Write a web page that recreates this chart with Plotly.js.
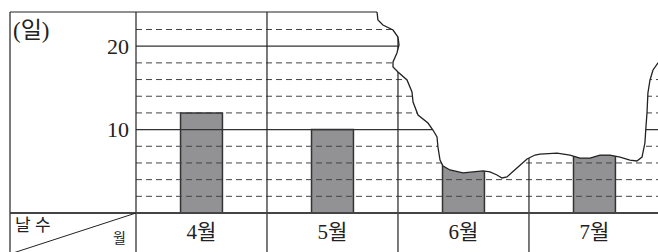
<!DOCTYPE html>
<html>
<head>
<meta charset="utf-8">
<script src="https://cdn.plot.ly/plotly-3.0.1.min.js"></script>
<style>
  html, body { margin: 0; padding: 0; background: #fff; }
  #chart { width: 658px; height: 252px; }
</style>
</head>
<body>
<div id="chart"></div>
<script>
// ---- data ----
const MONTHS = ['4월', '5월', '6월', '7월'];
const DAYS = [12, 10, 6, 7];           // 6월, 7월 are partly hidden by the torn paper
const Y_TICK_VALUES = [10, 20];
const Y_TICK_LABELS = ['10', '20'];
const SOLID_GRID = [10, 20];
const DASHED_GRID = [2, 4, 6, 8, 12, 14, 16, 18, 22];
const UNIT_LABEL = '(일)';
const ROW_HEADER = '날 수';
const COL_HEADER = '월';

// torn-paper edge, in chart units (x: category index, y: days)
const TEAR_X = [1.340, 1.347, 1.385, 1.462, 1.500, 1.508, 1.492, 1.462, 1.462, 1.500, 1.569, 1.607,
  1.615, 1.653, 1.729, 1.767, 1.798, 1.805, 1.821, 1.844, 1.897, 1.996, 2.073, 2.149, 2.202, 2.256,
  2.294, 2.332, 2.408, 2.485, 2.546, 2.584, 2.714, 2.813, 2.889, 2.966, 3.042, 3.118, 3.195, 3.271,
  3.324, 3.363, 3.385, 3.393, 3.401, 3.408, 3.424, 3.447, 3.485, 3.515];
const TEAR_Y = [24.1, 23.14, 22.54, 21.94, 21.10, 20.14, 19.18, 18.11, 17.51, 16.91, 15.95, 14.51,
  13.31, 11.75, 10.79, 9.95, 9.11, 7.91, 6.35, 5.64, 5.16, 4.80, 4.92, 5.04, 4.92, 4.56,
  4.20, 4.32, 5.40, 6.47, 6.95, 7.07, 7.19, 6.95, 6.59, 6.59, 6.95, 6.95, 6.71, 6.35,
  6.24, 6.71, 8.39, 10.31, 11.99, 14.39, 15.95, 17.15, 17.99, 18.35];

// ---- layout constants ----
const X_RANGE = [-0.5, 3.485];
const Y_RANGE = [0, 24.1];
const M = { l: 136, r: 0, t: 12, b: 39 };
const W = 658, H = 252;
const PW = W - M.l - M.r, PH = H - M.t - M.b;
const pxX = px => (px - M.l) / PW;          // pixel -> paper x
const pxY = py => (H - M.b - py) / PH;      // pixel -> paper y
const dX = x => (x - X_RANGE[0]) / (X_RANGE[1] - X_RANGE[0]);
const dY = y => (y - Y_RANGE[0]) / (Y_RANGE[1] - Y_RANGE[0]);

const SERIF = 'Liberation Serif, "Noto Sans CJK KR", serif';
const INK = '#222';
const FRAME_LEFT = pxX(10);
const RIGHT_EDGE = 1.02;
const BOTTOM_EDGE = pxY(256);

const shapes = [];
const addLine = (x0, y0, x1, y1, xref, yref, color, width, dash) => shapes.push({
  type: 'line', layer: 'above', xref, yref, x0, y0, x1, y1,
  line: { color, width, dash: dash || 'solid' }
});

DASHED_GRID.forEach(v => addLine(0, v, RIGHT_EDGE, v, 'paper', 'y', '#444', 1, '6px,4px'));
SOLID_GRID.forEach(v => addLine(0, v, RIGHT_EDGE, v, 'paper', 'y', '#333', 1.2));
// column separators
MONTHS.forEach((m, i) => { if (i > 0) addLine(i - 0.5, 1, i - 0.5, BOTTOM_EDGE, 'x', 'paper', '#222', 1.2); });
// frame
addLine(0, 1, 0, BOTTOM_EDGE, 'paper', 'paper', '#222', 1.2);
addLine(FRAME_LEFT, 1, FRAME_LEFT, BOTTOM_EDGE, 'paper', 'paper', '#222', 1.2);
addLine(FRAME_LEFT, 1, RIGHT_EDGE, 1, 'paper', 'paper', '#222', 1.2);
addLine(FRAME_LEFT, 0, RIGHT_EDGE, 0, 'paper', 'paper', '#444', 2);
addLine(FRAME_LEFT, pxY(254), 0, 0, 'paper', 'paper', '#222', 1);

// torn paper
const tearPts = TEAR_X.map((x, i) => [dX(x), dY(TEAR_Y[i])]);
const edgePath = tearPts.map((p, i) => (i ? 'L' : 'M') + p[0].toFixed(5) + ',' + p[1].toFixed(5)).join(' ');
const tearTop = dY(26.5);
const fillPath = 'M' + tearPts[0][0].toFixed(5) + ',' + tearTop.toFixed(5) + ' ' +
  edgePath.replace(/^M/, 'L') + ' L1.05,' + tearPts[tearPts.length - 1][1].toFixed(5) +
  ' L1.05,' + tearTop.toFixed(5) + ' Z';
shapes.push({ type: 'path', layer: 'above', xref: 'paper', yref: 'paper', path: fillPath,
  fillcolor: '#ffffff', line: { width: 0 } });
shapes.push({ type: 'path', layer: 'above', xref: 'paper', yref: 'paper', path: edgePath,
  fillcolor: 'rgba(0,0,0,0)', line: { color: '#222', width: 1.3 } });

const annotations = [
  { text: UNIT_LABEL, xref: 'paper', yref: 'paper', x: pxX(11), y: pxY(16), xanchor: 'left', yanchor: 'top',
    showarrow: false, font: { family: SERIF, size: 23, color: INK } },
  { text: ROW_HEADER, xref: 'paper', yref: 'paper', x: pxX(13), y: pxY(214), xanchor: 'left', yanchor: 'top',
    showarrow: false, font: { family: SERIF, size: 17, color: INK } },
  { text: COL_HEADER, xref: 'paper', yref: 'paper', x: pxX(128), y: pxY(229), xanchor: 'right', yanchor: 'top',
    showarrow: false, font: { family: SERIF, size: 14, color: INK } }
];

const trace = {
  type: 'bar', x: MONTHS, y: DAYS, width: 0.32,
  marker: { color: '#929294', line: { color: '#333', width: 1.5 } },
  hoverinfo: 'skip'
};

const layout = {
  width: W, height: H, autosize: false,
  margin: M, paper_bgcolor: '#fff', plot_bgcolor: '#fff',
  showlegend: false, bargap: 0,
  xaxis: { type: 'category', range: X_RANGE, showgrid: false, zeroline: false, showline: false,
    ticks: '', ticklabelstandoff: 4, tickfont: { family: SERIF, size: 21, color: INK }, fixedrange: true },
  yaxis: { range: Y_RANGE, tickmode: 'array', tickvals: Y_TICK_VALUES, ticktext: Y_TICK_LABELS,
    showgrid: false, zeroline: false, showline: false, ticks: '', ticklabelstandoff: 6,
    tickfont: { family: SERIF, size: 22, color: INK }, fixedrange: true },
  shapes, annotations
};

Plotly.newPlot('chart', [trace], layout, { staticPlot: true, displayModeBar: false });
</script>
</body>
</html>
